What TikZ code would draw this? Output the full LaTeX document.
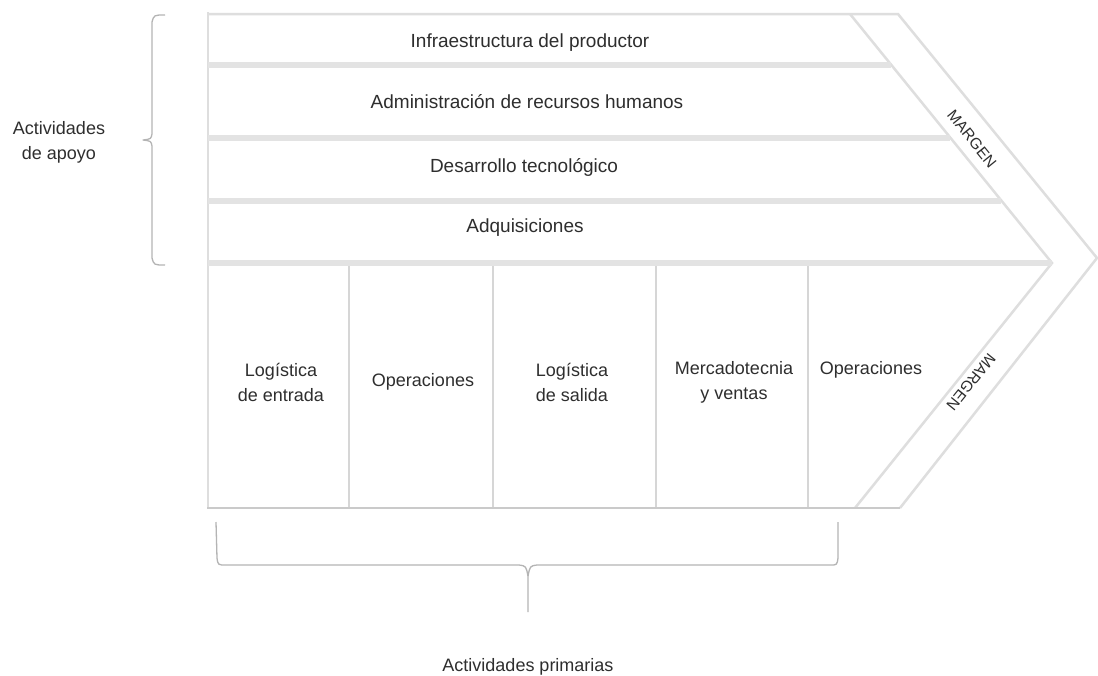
\documentclass[tikz,border=0pt]{standalone}
\usepackage{fontspec}
\setmainfont{Liberation Sans}
\definecolor{bandline}{HTML}{E3E3E3}
\definecolor{edgeline}{HTML}{DEDEDE}
\definecolor{divline}{HTML}{D6D6D6}
\definecolor{baseline}{HTML}{CACACA}
\definecolor{bracecol}{HTML}{B4B4B4}
\definecolor{txt}{HTML}{2E2E2E}
\begin{document}
\begin{tikzpicture}[x=1pt,y=-1pt,
  band/.style={draw=bandline,line width=6pt},
  edge/.style={draw=edgeline,line width=2.5pt,line join=miter},
  divider/.style={draw=divline,line width=2pt},
  bottomline/.style={draw=baseline,line width=2pt},
  bracepath/.style={draw=bracecol,line width=1.3pt,line join=round},
  label/.style={text=txt,font=\fontsize{19}{25}\selectfont,align=center,inner sep=0pt},
  smalllabel/.style={text=txt,font=\fontsize{18}{25}\selectfont,align=center,inner sep=0pt},
  marginlabel/.style={text=txt,font=\fontsize{15.5}{18}\selectfont,inner sep=0pt}]
\useasboundingbox (0,0) rectangle (1098,675);
\fill[white] (0,0) rectangle (1098,675);

% outer chevron border
\draw[edge] (208,14) -- (898,14) -- (1097,258) -- (900,508);
\draw[edge] (850,14) -- (1052,263) -- (855,508);
\draw[edge] (208,12) -- (208,508);

% support activity bands
\draw[band] (208,65) -- (891,65);
\draw[band] (208,138) -- (950,138);
\draw[band] (208,201) -- (1001,201);
\draw[band] (208,263) -- (1052,263);

% primary activity dividers
\draw[divider] (349,266) -- (349,508);
\draw[divider] (493,266) -- (493,508);
\draw[divider] (656,266) -- (656,508);
\draw[divider] (808,266) -- (808,508);
\draw[bottomline] (207,508) -- (900,508);

% support labels
\node[label] (infra) at (530,43) {Infraestructura del productor};
\node[label] (rrhh) at (527,102) {Administración de recursos humanos};
\node[label] (tec) at (524,167) {Desarrollo tecnológico};
\node[label] (adq) at (525,228) {Adquisiciones};

% primary labels
\node[smalllabel] (le) at (281,382) {Logística\\de entrada};
\node[smalllabel] (op1) at (423,382) {Operaciones};
\node[smalllabel] (ls) at (572,382) {Logística\\de salida};
\node[smalllabel] (mv) at (734,382) {Mercadotecnia\\y ventas};
\node[smalllabel] (op2) at (871,370) {Operaciones};

% margin labels
\node[marginlabel,rotate=-51] (m1) at (972,139) {MARGEN};
\node[marginlabel,rotate=-129] (m2) at (971,382) {MARGEN};

% left brace
\draw[bracepath] (165,15) .. controls (154,15) .. (152,22) -- (152,134)
  .. controls (151,139) .. (143,140) .. controls (151,141) .. (152,146)
  -- (152,258) .. controls (154,265) .. (165,265);
\node[smalllabel] (apoyo) at (59,142) {Actividades\\de apoyo};

% bottom brace
\draw[bracepath] (216,522) -- (217,558) .. controls (218,565) .. (226,565)
  -- (519,565) .. controls (526,566) .. (528,576) -- (528,612);
\draw[bracepath] (528,576) .. controls (530,566) .. (537,565) -- (830,565)
  .. controls (837,565) .. (838,558) -- (838,522);
\coordinate (bracetip) at (528,612);
\node[smalllabel,anchor=base] (prim) at (528,671) {Actividades primarias};
\end{tikzpicture}
\end{document}
